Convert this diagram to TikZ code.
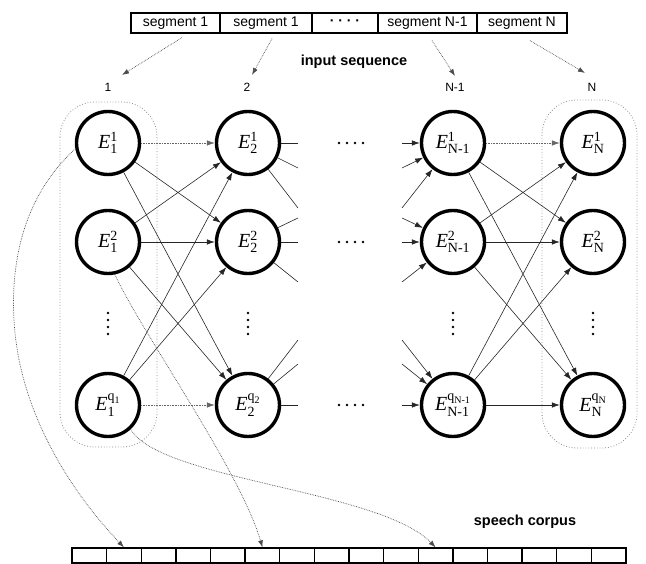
\documentclass[tikz,border=0pt]{standalone}
\usepackage{fontspec}
\usepackage{amsmath}
\setmainfont{Liberation Serif}
\setsansfont{Liberation Sans}
\usetikzlibrary{arrows.meta}
\begin{document}
\begin{tikzpicture}[x=1pt,y=-1pt,
  enode/.style={circle,draw,line width=3.4pt,minimum size=63pt,inner sep=0pt,font=\fontsize{20}{24}\selectfont},
  conn/.style={-{Latex[length=8pt,width=5.5pt]},line width=0.6pt,draw=black!85},
  dconn/.style={conn,densely dotted,draw=black!60},
  stub/.style={line width=0.6pt,draw=black!85},
  grp/.style={draw=black!45,dotted,line width=0.8pt,rounded corners=35pt},
  segbox/.style={draw,line width=1.2pt,minimum height=20pt,inner sep=0pt,font=\sffamily\fontsize{14}{16}\selectfont},
  cellbox/.style={draw,line width=1.3pt,minimum width=34.625pt,minimum height=15pt,inner sep=0pt},
  segarr/.style={-{Latex[length=7pt,width=5pt]},densely dotted,line width=0.7pt,draw=black!70},
  lab/.style={font=\sffamily\fontsize{12}{14}\selectfont},
  ttl/.style={font=\sffamily\bfseries\fontsize{14.5}{17}\selectfont}]
\useasboundingbox (0,0) rectangle (646,564);

% input sequence bar
\node[segbox,minimum width=89pt] (s1) at (175.5,23) {segment 1};
\node[segbox,minimum width=92pt] (s2) at (266,23) {segment 1};
\node[segbox,minimum width=66pt] (s3) at (345,23) {\textbf{· · · ·}};
\node[segbox,minimum width=99pt] (s4) at (427.5,23) {segment N-1};
\node[segbox,minimum width=90pt] (s5) at (522,23) {segment N};
\node[ttl] (insq) at (354,62) {input sequence};

% column labels
\node[lab] (l1) at (108,87) {1};
\node[lab] (l2) at (247,87) {2};
\node[lab] (l3) at (455,87) {N-1};
\node[lab] (l4) at (592,87) {N};

\coordinate (a1s) at ([shift={(6.5,4)}]s1.south);
\coordinate (a2s) at ([shift={(6,5)}]s2.south);
\coordinate (a3s) at ([shift={(4.5,7)}]s4.south);
\coordinate (a4s) at ([shift={(8,7)}]s5.south);
\coordinate (a1e) at (122,75);
\coordinate (a2e) at (252,75);
\coordinate (a3e) at (455,76);
\coordinate (a4e) at (585,73);
\draw[segarr] (a1s) -- (a1e);
\draw[segarr] (a2s) -- (a2e);
\draw[segarr] (a3s) -- (a3e);
\draw[segarr] (a4s) -- (a4e);

% groups
\draw[grp] (60,102) rectangle (157,447);
\draw[grp] (542,100) rectangle (637,448);

% nodes
\node[enode] (E11) at (108,143) {$\mathit{E}_{\text{1}}^{\text{1}}$};
\node[enode] (E12) at (108,242) {$\mathit{E}_{\text{1}}^{\text{2}}$};
\node[enode] (E1q) at (108,405) {$\mathit{E}_{\text{1}}^{\text{q}_{\text{1}}}$};
\node[enode] (E21) at (248,143) {$\mathit{E}_{\text{2}}^{\text{1}}$};
\node[enode] (E22) at (248,242) {$\mathit{E}_{\text{2}}^{\text{2}}$};
\node[enode] (E2q) at (248,405) {$\mathit{E}_{\text{2}}^{\text{q}_{\text{2}}}$};
\node[enode] (EA1) at (453,143) {$\mathit{E}_{\text{N-1}}^{\text{1}}$};
\node[enode] (EA2) at (453,242) {$\mathit{E}_{\text{N-1}}^{\text{2}}$};
\node[enode] (EAq) at (453,405) {$\mathit{E}_{\text{N-1}}^{\text{q}_{\text{N-1}}}$};
\node[enode] (EB1) at (593,143) {$\mathit{E}_{\text{N}}^{\text{1}}$};
\node[enode] (EB2) at (593,242) {$\mathit{E}_{\text{N}}^{\text{2}}$};
\node[enode] (EBq) at (593,405) {$\mathit{E}_{\text{N}}^{\text{q}_{\text{N}}}$};

% vertical dots
\foreach \x in {108,248,453,593}
  \foreach \y in {313,320,327,334}
    \fill (\x,\y) circle (1.4pt);
% horizontal dots
\foreach \y in {143,242,405}
  \foreach \x in {339,347,355,363}
    \fill (\x,\y) circle (1.4pt);

% column 1 -> column 2
\draw[dconn] (E11) -- (E21);
\draw[conn] (E11) -- (E22);
\draw[conn] (E11) -- (E2q);
\draw[conn] (E12) -- (E21);
\draw[conn] (E12) -- (E22);
\draw[conn] (E12) -- (E2q);
\draw[conn] (E1q) -- (E21);
\draw[conn] (E1q) -- (E22);
\draw[dconn] (E1q) -- (E2q);

% column N-1 -> column N
\draw[dconn] (EA1) -- (EB1);
\draw[conn] (EA1) -- (EB2);
\draw[conn] (EA1) -- (EBq);
\draw[conn] (EA2) -- (EB1);
\draw[conn] (EA2) -- (EB2);
\draw[conn] (EA2) -- (EBq);
\draw[conn] (EAq) -- (EB1);
\draw[conn] (EAq) -- (EB2);
\draw[conn] (EAq) -- (EBq);

% stubs out of column 2
\coordinate (o11) at (298,143);
\coordinate (o12) at (298,168);
\coordinate (o13) at (298,208);
\coordinate (o21) at (298,218);
\coordinate (o22) at (298,242);
\coordinate (o23) at (298,282);
\coordinate (oq1) at (298,340);
\coordinate (oq2) at (298,364);
\coordinate (oq3) at (298,405);
\draw[stub] (E21) -- (o11);
\draw[stub] (E21) -- (o12);
\draw[stub] (E21) -- (o13);
\draw[stub] (E22) -- (o21);
\draw[stub] (E22) -- (o22);
\draw[stub] (E22) -- (o23);
\draw[stub] (E2q) -- (oq1);
\draw[stub] (E2q) -- (oq2);
\draw[stub] (E2q) -- (oq3);

% stubs into column N-1
\coordinate (i11) at (402,143);
\coordinate (i12) at (402,168);
\coordinate (i13) at (402,208);
\coordinate (i21) at (402,218);
\coordinate (i22) at (402,242);
\coordinate (i23) at (402,282);
\coordinate (iq1) at (402,340);
\coordinate (iq2) at (402,364);
\coordinate (iq3) at (402,405);
\draw[conn] (i11) -- (EA1);
\draw[conn] (i12) -- (EA1);
\draw[conn] (i13) -- (EA1);
\draw[conn] (i21) -- (EA2);
\draw[conn] (i22) -- (EA2);
\draw[conn] (i23) -- (EA2);
\draw[conn] (iq1) -- (EAq);
\draw[conn] (iq2) -- (EAq);
\draw[conn] (iq3) -- (EAq);

% speech corpus
\node[ttl] (spc) at (525,522) {speech corpus};
\foreach \i in {1,...,16}
  \node[cellbox] (c\i) at ({72+34.625*(\i-0.5)},555.5) {};

\draw[segarr] (E11.190) .. controls (30,190) and (10,250) .. (14,320)
   .. controls (18,400) and (60,480) .. (c2.north);
\draw[segarr] (E12.-78) .. controls (140,330) and (240,470) .. (c6.north);
\draw[segarr] (E1q.-47) .. controls (160,480) and (380,490) .. (c11.north);
\end{tikzpicture}
\end{document}
